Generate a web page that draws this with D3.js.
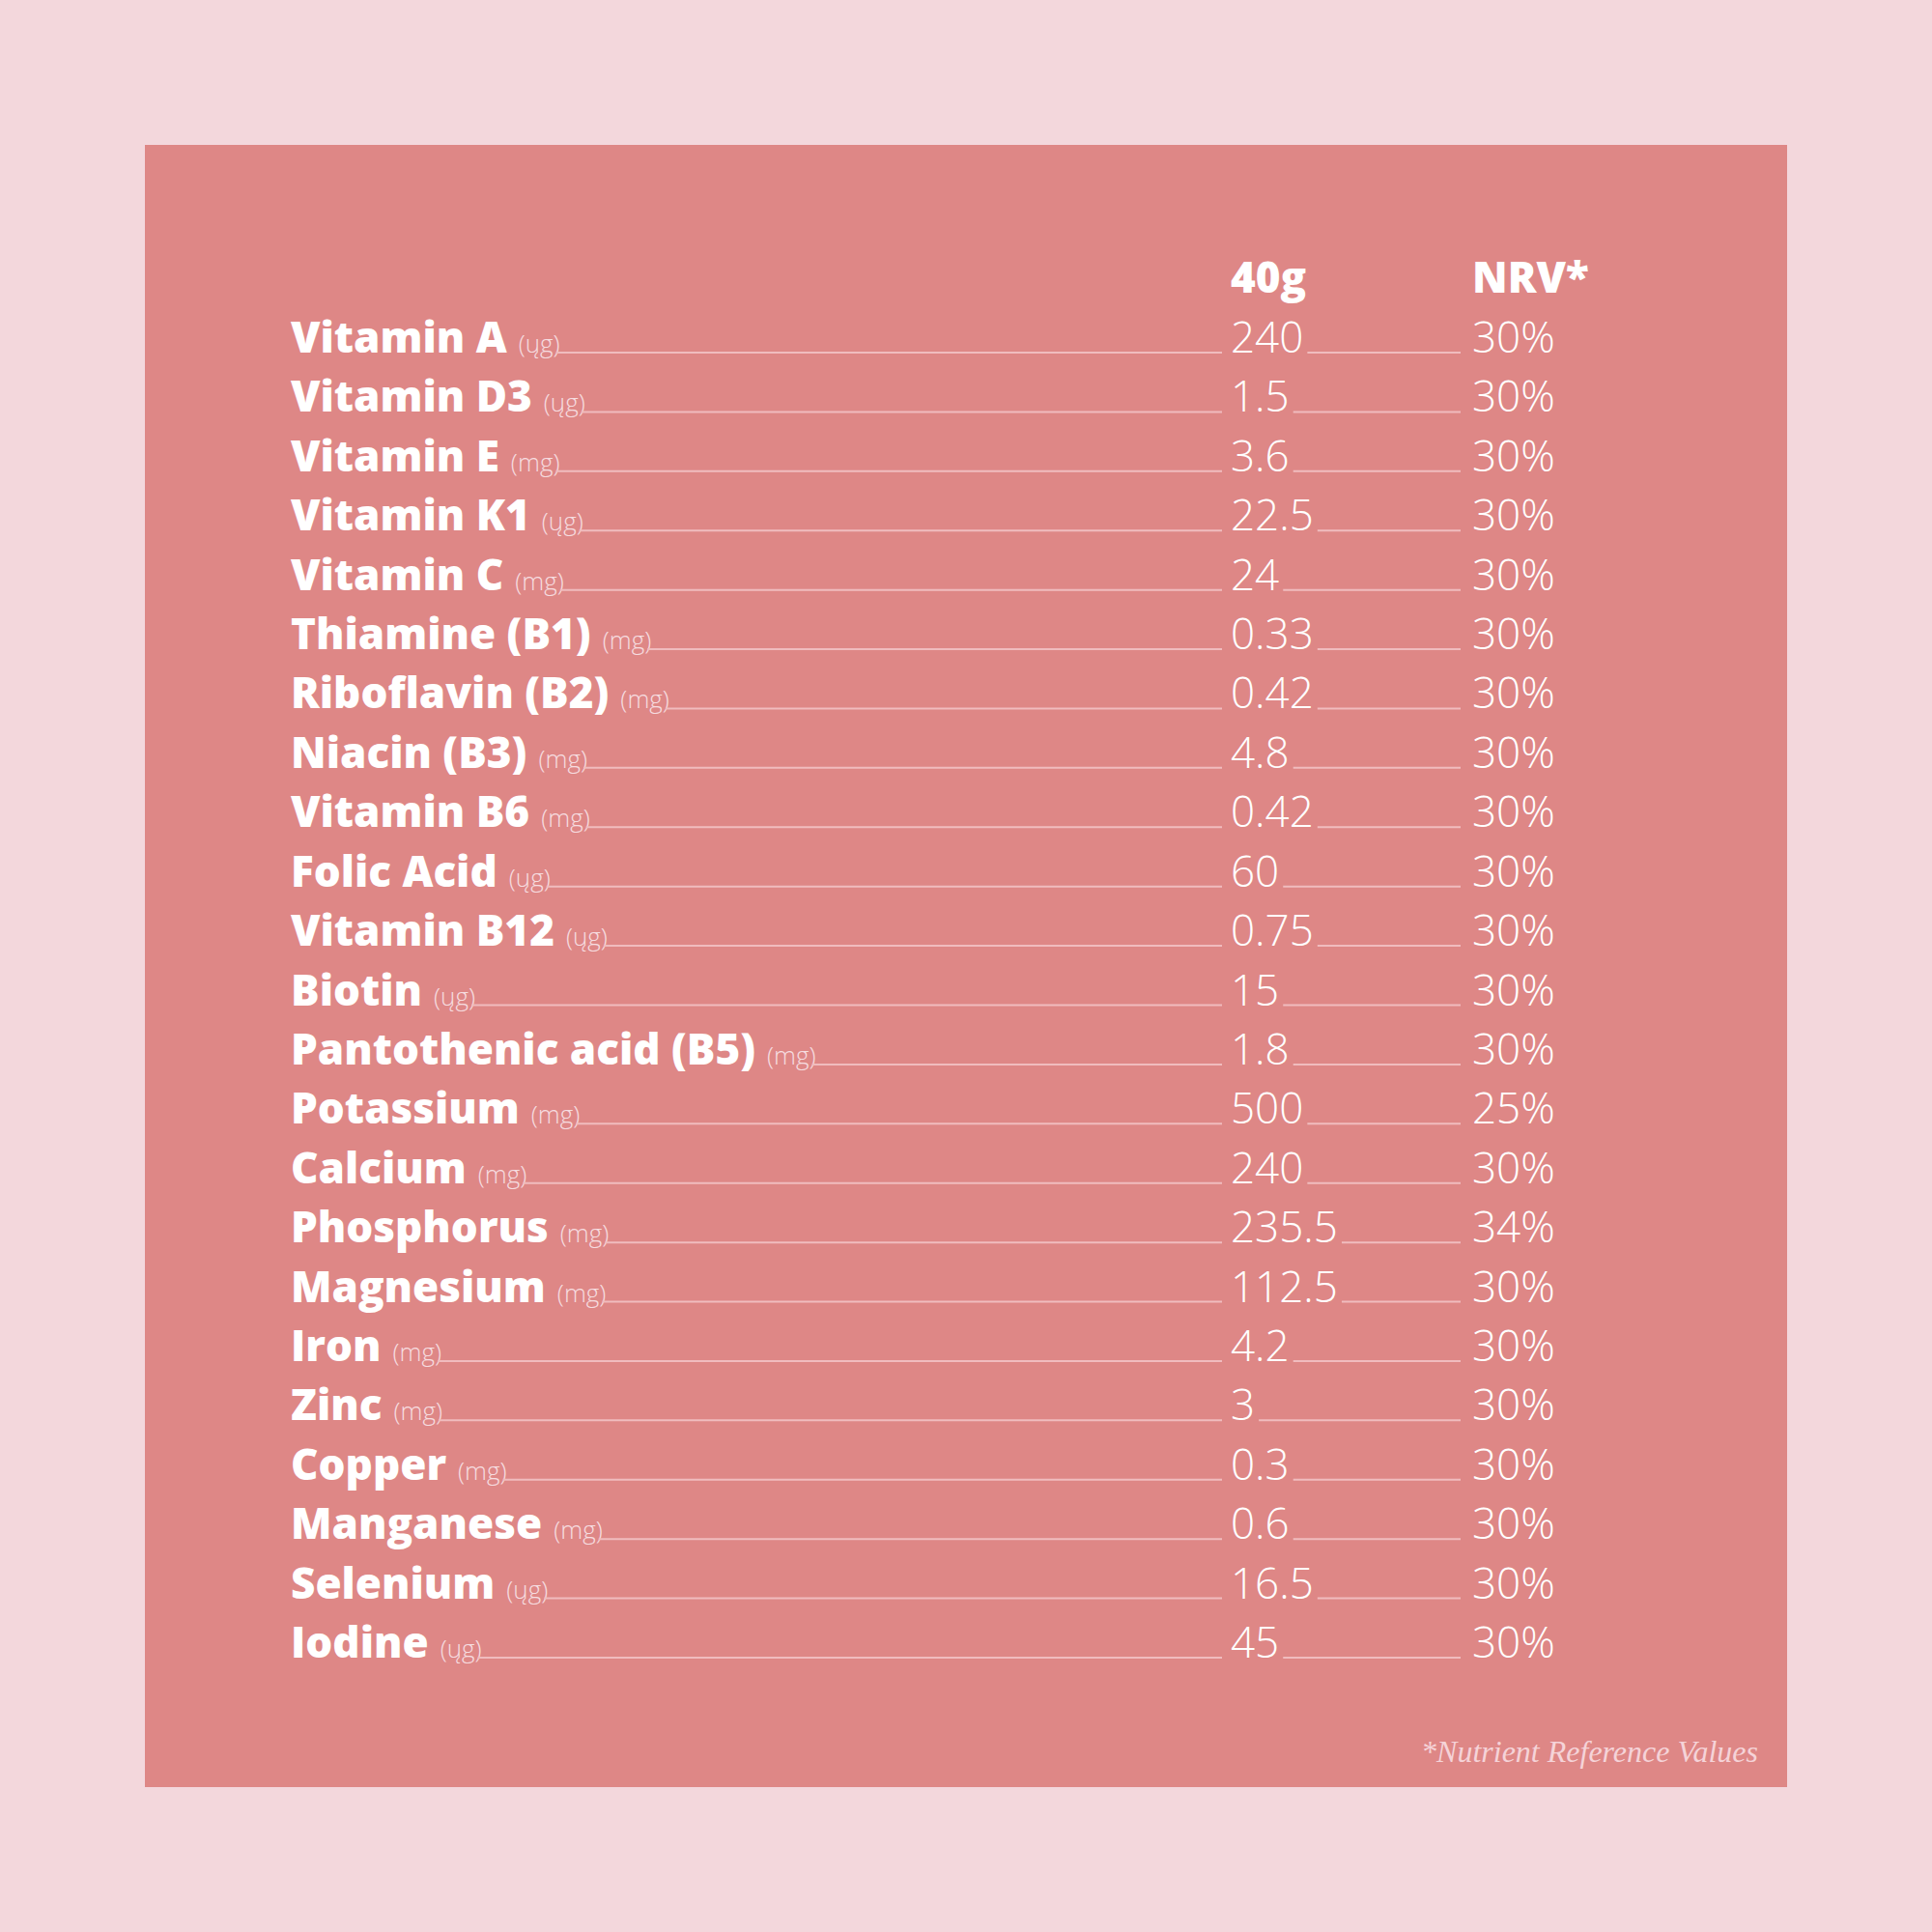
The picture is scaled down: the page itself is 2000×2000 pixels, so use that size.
<!DOCTYPE html>
<html><head><meta charset="utf-8">
<script src="https://cdn.jsdelivr.net/npm/d3@7"></script>
<style>body{margin:0;background:#f3d7dc}</style>
</head><body>
<svg class="chart"></svg>
<script>
var nutrients = ["Vitamin A","Vitamin D3","Vitamin E","Vitamin K1","Vitamin C","Thiamine (B1)","Riboflavin (B2)","Niacin (B3)","Vitamin B6","Folic Acid","Vitamin B12","Biotin","Pantothenic acid (B5)","Potassium","Calcium","Phosphorus","Magnesium","Iron","Zinc","Copper","Manganese","Selenium","Iodine"];
var units = ["ųg","ųg","mg","ųg","mg","mg","mg","mg","mg","ųg","ųg","ųg","mg","mg","mg","mg","mg","mg","mg","mg","mg","ųg","ųg"];
var amounts = ["240","1.5","3.6","22.5","24","0.33","0.42","4.8","0.42","60","0.75","15","1.8","500","240","235.5","112.5","4.2","3","0.3","0.6","16.5","45"];
var nrv = ["30%","30%","30%","30%","30%","30%","30%","30%","30%","30%","30%","30%","30%","25%","30%","34%","30%","30%","30%","30%","30%","30%","30%"];
var headers = ["40g","NRV*"];

var svg = d3.select(".chart").attr("width",2000).attr("height",2000);
svg.append("rect").attr("width",2000).attr("height",2000).attr("fill","#f3d7dc");
svg.append("rect").attr("x",150).attr("y",150).attr("width",1700).attr("height",1700).attr("fill","#de8786");

var y = d3.scalePoint().domain(d3.range(nutrients.length)).range([365,1716]);
var xLabel = 301, xVal = 1274, xNrv = 1524, lineEnd1 = 1265, lineEnd2 = 1512;

svg.selectAll(".hdr").data(headers).enter().append("text")
	.attr("x", function(d,i){ return i ? xNrv : xVal; })
	.attr("y", 303)
	.attr("fill","#fff").attr("font-family","Open Sans").attr("font-weight",800)
	.attr("font-size",44).text(function(d){ return d; });

var rows = svg.selectAll(".row").data(nutrients).enter().append("g")
	.attr("transform", function(d,i){ return "translate(0," + y(i) + ")"; });

rows.each(function(d,i){
	var g = d3.select(this);
	var t = g.append("text").attr("x",xLabel).attr("fill","#fff")
		.attr("font-family","Open Sans").attr("font-weight",800).attr("font-size",44);
	t.append("tspan").text(d);
	t.append("tspan").attr("dx",12).attr("font-size",26).attr("font-weight",300)
		.attr("fill","#f6dde0").text("(" + units[i] + ")");
	var w = t.node().getComputedTextLength();
	g.append("line").attr("x1",xLabel + w + 8).attr("x2",lineEnd1)
		.attr("stroke","#f0bcbe").attr("stroke-width",2);
	var v = g.append("text").attr("x",xVal).attr("fill","#fff")
		.attr("font-family","Open Sans").attr("font-weight",300).attr("font-size",44)
		.text(amounts[i]);
	var vw = v.node().getComputedTextLength();
	g.append("line").attr("x1",xVal + vw + 4).attr("x2",lineEnd2)
		.attr("stroke","#f0bcbe").attr("stroke-width",2);
	g.append("text").attr("x",xNrv).attr("fill","#fff")
		.attr("font-family","Open Sans").attr("font-weight",300).attr("font-size",44)
		.text(nrv[i]);
});

svg.append("text").attr("x",1820).attr("y",1824).attr("text-anchor","end")
	.attr("fill","#f5d3d8").attr("font-family","Liberation Sans Narrow")
	.attr("font-style","italic").attr("font-size",32)
	.text("*Nutrient Reference Values");
</script>
</body></html>
